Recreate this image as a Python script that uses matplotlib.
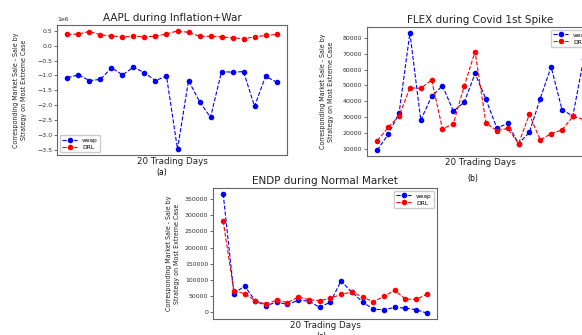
import matplotlib
matplotlib.use("Agg")
import matplotlib.pyplot as plt
import numpy as np

days = list(range(1, 21))

aapl_vwap = [-1.07e6, -0.98e6, -1.17e6, -1.13e6, -0.74e6, -0.98e6, -0.72e6, -0.91e6, -1.17e6, -1.02e6,
             -3.46e6, -1.17e6, -1.87e6, -2.40e6, -0.87e6, -0.89e6, -0.87e6, -2.03e6, -1.03e6, -1.22e6]
aapl_drl = [0.37e6, 0.39e6, 0.47e6, 0.36e6, 0.32e6, 0.29e6, 0.31e6, 0.30e6, 0.31e6, 0.39e6,
            0.49e6, 0.44e6, 0.31e6, 0.31e6, 0.29e6, 0.26e6, 0.23e6, 0.29e6, 0.34e6, 0.37e6]

flex_vwap = [9200, 19200, 32300, 83100, 28100, 43100, 49800, 33800, 39400, 57500,
             41300, 23100, 26000, 13300, 20400, 41700, 61700, 34800, 30600, 66900]
flex_drl = [15200, 23500, 30800, 48500, 48100, 53500, 22500, 25800, 49600, 71300,
            26300, 21500, 22900, 13300, 31700, 15600, 19600, 21900, 30400, 28500]

endp_vwap = [365700, 57900, 81600, 35100, 20700, 32000, 24800, 37200, 35100, 15500,
             32000, 97100, 62000, 33000, 9300, 8300, 15500, 13400, 8300, -2000]
endp_drl = [282000, 66100, 57900, 36200, 24800, 38200, 30000, 47500, 39300, 36200,
            43400, 55800, 63000, 47500, 33000, 49600, 68200, 41300, 40300, 55800]

titles = ["AAPL during Inflation+War", "FLEX during Covid 1st Spike", "ENDP during Normal Market"]
ylabel = "Corresponding Market Sale - Sale by\nStrategy on Most Extreme Case"
xlabel = "20 Trading Days"
panel_labels = ["(a)", "(b)", "(c)"]

W, H = 582, 335
fig = plt.figure(figsize=(W / 100, H / 100), dpi=100)
fig.patch.set_facecolor("white")

def px_axes(x0, y0, x1, y1):
    return fig.add_axes([x0 / W, (H - y1) / H, (x1 - x0) / W, (y1 - y0) / H])

specs = [
    ((57, 25, 287, 155), aapl_vwap, aapl_drl, "lower left", -0.16),
    ((367, 27, 594, 156), flex_vwap, flex_drl, "upper right", -0.176),
    ((213, 188, 437, 319), endp_vwap, endp_drl, "upper right", -0.18),
]

for i, (box, vw, dr, loc, ylx) in enumerate(specs):
    ax = px_axes(*box)
    ax.plot(days, vw, color="blue", linestyle="--", marker="o", markersize=3, linewidth=0.8, label="vwap")
    ax.plot(days, dr, color="red", linestyle="--", marker="o", markersize=3, linewidth=0.8, label="DRL")
    ax.set_xticks([])
    ax.tick_params(axis="y", labelsize=4.5, length=2, width=0.5, pad=1.5, colors="#333333")
    ax.yaxis.get_offset_text().set_fontsize(4.5)
    for s in ax.spines.values():
        s.set_color("#666666")
        s.set_linewidth(0.8)
    ax.set_title(titles[i], fontsize=7.5, pad=3, color="#222222")
    ax.set_xlabel(xlabel, fontsize=6.3, labelpad=1.5, color="#222222")
    ax.set_ylabel(ylabel, fontsize=5.0, fontstretch="condensed", color="#222222",
                  linespacing=1.35)
    ax.yaxis.set_label_coords(ylx, 0.5)
    ax.yaxis.label.set_va("center")
    ax.legend(loc=loc, fontsize=4.3, handlelength=2.5, borderpad=0.4, labelspacing=0.3, framealpha=1)

fig.text(162 / W, 1 - 172 / H, panel_labels[0], ha="center", va="center", fontsize=5.5)
fig.text(473 / W, 1 - 178 / H, panel_labels[1], ha="center", va="center", fontsize=5.5)
fig.text(321 / W, 1 - 336 / H, panel_labels[2], ha="center", va="center", fontsize=5.5)

fig.savefig("out.png", dpi=100)
